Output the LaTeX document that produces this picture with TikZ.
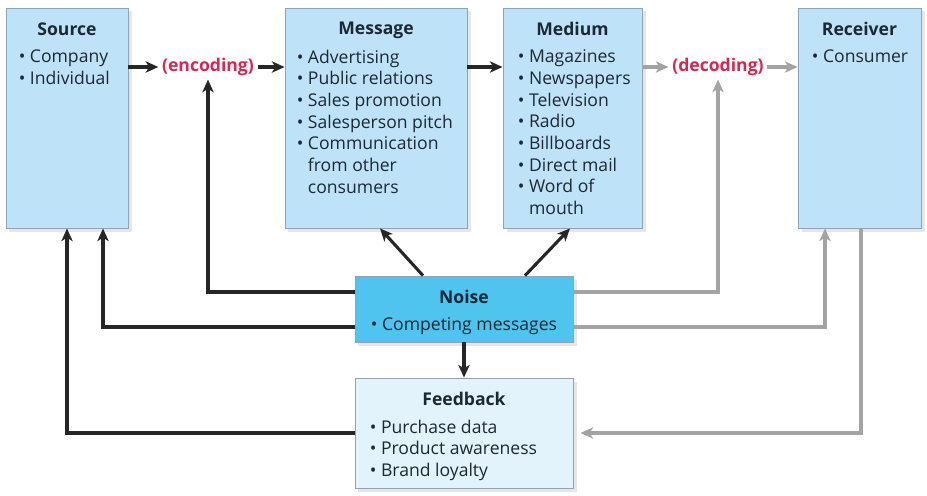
\documentclass[tikz,border=0pt]{standalone}
\usepackage{fontspec}
\setmainfont{Open Sans}
\usetikzlibrary{positioning,arrows.meta,shadows,calc}
\definecolor{boxblue}{HTML}{BEE3F8}
\definecolor{noiseblue}{HTML}{4FC4EF}
\definecolor{fbblue}{HTML}{E2F3FC}
\definecolor{edgegray}{HTML}{8FA3B3}
\definecolor{codered}{HTML}{D9264F}
\definecolor{linegray}{HTML}{A3A3A3}
\definecolor{ink}{HTML}{1C2833}
\newcommand\fsz{\fontsize{12.5}{15.4}\selectfont}
\newcommand\itm{\textbullet\ }
\newcommand\cont{\hphantom{\textbullet\ }}
\begin{document}
\begin{tikzpicture}[x=0.025cm,y=-0.025cm,
  box/.style={draw=edgegray,line width=0.6pt,fill=boxblue,inner sep=0pt,
    drop shadow={shadow xshift=2.5pt,shadow yshift=-2.5pt,opacity=0.2}},
  head/.style={inner sep=0pt,font=\fsz\bfseries,text=ink},
  items/.style={inner sep=0pt,align=left,font=\fsz,text=ink},
  code/.style={inner sep=2.5pt,font=\fsz\bfseries,text=codered},
  dark/.style={draw=black!85,line width=2.2pt,-{Stealth[length=9pt,width=8pt,inset=2.5pt]}},
  light/.style={dark,draw=linegray}]
\useasboundingbox (0,0) rectangle (927,495);
% boxes
\node[box,minimum width=3.05cm,minimum height=5.5cm] (src) at (67,118) {};
\node[box,minimum width=4.55cm,minimum height=5.5cm] (msg) at (376,118) {};
\node[box,minimum width=3.475cm,minimum height=5.5cm] (med) at (572.5,118) {};
\node[box,minimum width=3.075cm,minimum height=5.5cm] (rcv) at (859.5,118) {};
\node[box,fill=noiseblue,minimum width=5.45cm,minimum height=1.65cm] (noise) at (464,309) {};
\node[box,fill=fbblue,minimum width=5.45cm,minimum height=2.75cm] (fb) at (464,433) {};
% titles and lists
\node[head,below=10.3pt of src.north] (srchead) {Source};
\node[items,below right=29.9pt and 9.2pt of src.north west] (srclist) {\itm Company\\ \itm Individual};
\node[head,below=10.3pt of msg.north] (msghead) {Message};
\node[items,below right=29.9pt and 8.5pt of msg.north west] (msglist) {\itm Advertising\\ \itm Public relations\\ \itm Sales promotion\\ \itm Salesperson pitch\\ \itm Communication\\ \cont from other\\ \cont consumers};
\node[head,below=10.3pt of med.north] (medhead) {Medium};
\node[items,below right=29.9pt and 10.7pt of med.north west] (medlist) {\itm Magazines\\ \itm Newspapers\\ \itm Television\\ \itm Radio\\ \itm Billboards\\ \itm Direct mail\\ \itm Word of\\ \cont mouth};
\node[head,below=10.3pt of rcv.north] (rcvhead) {Receiver};
\node[items,below right=29.9pt and 10pt of rcv.north west] (rcvlist) {\itm Consumer};
\node[head,below=10pt of noise.north] (noisehead) {Noise};
\node[items,below=29.9pt of noise.north] (noiselist) {\itm Competing messages};
\node[head,below=10pt of fb.north] (fbhead) {Feedback};
\node[items,below right=29.9pt and 10.7pt of fb.north west] (fblist) {\itm Purchase data\\ \itm Product awareness\\ \itm Brand loyalty};
% coding labels
\node[code] (enc) at (208,67) {(encoding)};
\node[code] (dec) at (718,67) {(decoding)};
% main chain
\draw[dark] (enc -| src.east) -- (enc.west);
\draw[dark] (enc.east) -- (enc -| msg.west);
\draw[dark] (enc -| msg.east) -- (enc -| med.west);
\draw[light] (dec -| med.east) -- (dec.west);
\draw[light] (dec.east) -- (dec -| rcv.west);
% noise
\draw[dark] ($(noise.west)+(0,-17)$) -| (enc.south);
\draw[dark] ($(noise.west)+(0,18)$) -| ($(src.south)+(36,0)$);
\draw[dark] ($(noise.north)+(-41,0)$) -- ($(msg.south)+(4,0)$);
\draw[dark] ($(noise.north)+(61,0)$) -- ($(med.south)+(-2.5,0)$);
\draw[dark] (noise.south) -- (fb.north);
\draw[light] ($(noise.east)+(0,-17)$) -| (dec.south);
\draw[light] ($(noise.east)+(0,18)$) -| ($(rcv.south)+(-34.5,0)$);
% feedback
\draw[dark] (fb.west) -| (src.south);
\draw[light,shorten >=5pt] ($(rcv.south)+(1.5,0)$) |- (fb.east);
\end{tikzpicture}
\end{document}
